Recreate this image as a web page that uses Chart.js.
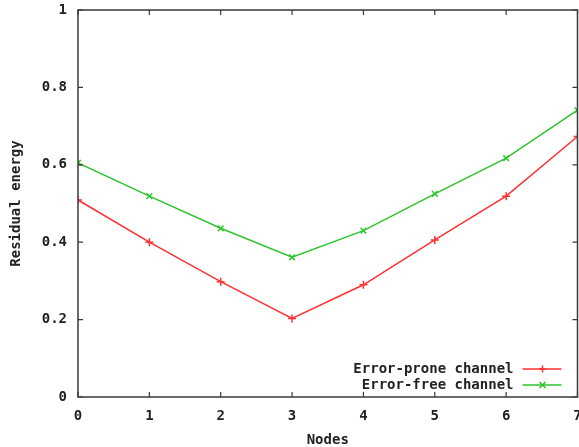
<!DOCTYPE html>
<html>
<head>
<meta charset="utf-8">
<script src="https://cdn.jsdelivr.net/npm/chart.js@4/dist/chart.umd.min.js"></script>
<style>
	html, body { margin: 0; padding: 0; background: #fff; overflow: hidden; }
	#wrap { position: relative; width: 583px; height: 447px; }
</style>
</head>
<body>
<div id="wrap"><canvas id="chart"></canvas></div>
<script>
const nodes = [0, 1, 2, 3, 4, 5, 6, 7];
const errorProne = [0.509, 0.400, 0.298, 0.203, 0.290, 0.406, 0.519, 0.673];
const errorFree = [0.605, 0.519, 0.436, 0.361, 0.430, 0.525, 0.617, 0.741];
const yTicks = [0, 0.2, 0.4, 0.6, 0.8, 1];
const seriesNames = ['Error-prone channel', 'Error-free channel'];

const FONT = { family: 'DejaVu Sans Mono', size: 14, weight: 'bold' };
const INK = '#3a3a3a';

// gnuplot style box with inward ticks on all four sides
const boxPlugin = {
	id: 'box',
	afterDatasetsDraw(chart) {
		const { ctx, chartArea: a, scales: { x, y } } = chart;
		ctx.save();
		ctx.strokeStyle = INK;
		ctx.lineWidth = 1.5;
		ctx.strokeRect(a.left, a.top, a.right - a.left, a.bottom - a.top);
		ctx.lineWidth = 1.2;
		ctx.beginPath();
		x.ticks.forEach(t => {
			const px = x.getPixelForValue(t.value);
			ctx.moveTo(px, a.bottom); ctx.lineTo(px, a.bottom - 5);
			ctx.moveTo(px, a.top); ctx.lineTo(px, a.top + 5);
		});
		y.ticks.forEach(t => {
			const py = y.getPixelForValue(t.value);
			ctx.moveTo(a.left, py); ctx.lineTo(a.left + 5, py);
			ctx.moveTo(a.right, py); ctx.lineTo(a.right - 5, py);
		});
		ctx.stroke();
		ctx.restore();
	}
};

// key at lower right: text then sample line with marker
const keyPlugin = {
	id: 'key',
	afterDraw(chart) {
		const { ctx, chartArea: a } = chart;
		ctx.save();
		ctx.font = `${FONT.weight} ${FONT.size}px ${FONT.family}`;
		ctx.textAlign = 'right';
		ctx.textBaseline = 'middle';
		chart.data.datasets.forEach((ds, i) => {
			const yy = a.bottom - 28 + i * 16;
			ctx.fillStyle = '#222';
			ctx.fillText(ds.label, a.right - 64, yy);
			ctx.strokeStyle = ds.borderColor;
			ctx.lineWidth = 1.5;
			ctx.beginPath();
			ctx.moveTo(a.right - 55, yy); ctx.lineTo(a.right - 16, yy);
			ctx.stroke();
			const mx = a.right - 35;
			ctx.beginPath();
			if (ds.pointStyle === 'cross') {
				ctx.moveTo(mx - 3.5, yy); ctx.lineTo(mx + 3.5, yy);
				ctx.moveTo(mx, yy - 3.5); ctx.lineTo(mx, yy + 3.5);
			} else {
				ctx.moveTo(mx - 3, yy - 3); ctx.lineTo(mx + 3, yy + 3);
				ctx.moveTo(mx - 3, yy + 3); ctx.lineTo(mx + 3, yy - 3);
			}
			ctx.stroke();
		});
		ctx.restore();
	}
};

const chart = new Chart(document.getElementById('chart'), {
	type: 'line',
	data: {
		datasets: [
			{
				label: seriesNames[0],
				data: nodes.map((n, i) => ({ x: n, y: errorProne[i] })),
				borderColor: '#ff3030',
				backgroundColor: '#ff3030',
				borderWidth: 1.5,
				pointStyle: 'cross',
				pointRadius: 4,
				pointBorderWidth: 1.5,
				tension: 0
			},
			{
				label: seriesNames[1],
				data: nodes.map((n, i) => ({ x: n, y: errorFree[i] })),
				borderColor: '#2ec42e',
				backgroundColor: '#2ec42e',
				borderWidth: 1.5,
				pointStyle: 'crossRot',
				pointRadius: 4,
				pointBorderWidth: 1.5,
				tension: 0
			}
		]
	},
	options: {
		responsive: true,
		maintainAspectRatio: false,
		animation: false,
		layout: { padding: { top: 10, right: 1, bottom: 0, left: 0 } },
		plugins: {
			legend: { display: false },
			tooltip: { enabled: false }
		},
		scales: {
			x: {
				type: 'linear',
				min: 0,
				max: 7,
				afterBuildTicks: s => { s.ticks = nodes.map(v => ({ value: v })); },
				afterFit: s => { s.height = 50; s.paddingLeft = 0; s.paddingRight = 0; },
				grid: { display: false, drawTicks: false },
				border: { display: false },
				ticks: { color: '#222', font: FONT, padding: 11, maxRotation: 0, callback: v => String(v) },
				title: { display: true, text: 'Nodes', color: '#222', font: FONT, padding: { top: 0, bottom: -2 } }
			},
			y: {
				min: 0,
				max: 1,
				afterBuildTicks: s => { s.ticks = yTicks.map(v => ({ value: v })); },
				afterFit: s => { s.width = 78; s.paddingTop = 0; s.paddingBottom = 0; },
				grid: { display: false, drawTicks: false },
				border: { display: false },
				ticks: { color: '#222', font: FONT, padding: 11, callback: v => String(v) },
				title: { display: true, text: 'Residual energy', color: '#222', font: FONT, padding: { top: 8, bottom: 0 } }
			}
		}
	},
	plugins: [boxPlugin, keyPlugin]
});
</script>
</body>
</html>
